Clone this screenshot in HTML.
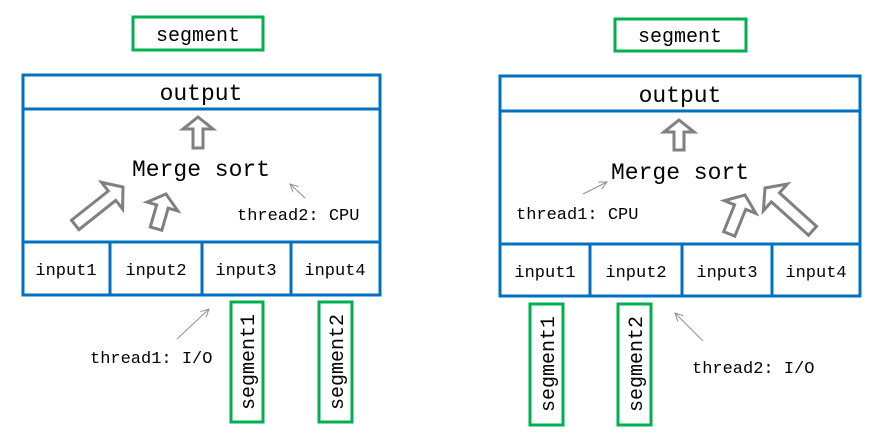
<!DOCTYPE html>
<html><head><meta charset="utf-8"><style>
html,body{margin:0;padding:0;background:#fff;}
svg{display:block;}
text{font-family:"Liberation Mono",monospace;fill:#000;}
</style></head><body>
<svg width="881" height="438" viewBox="0 0 881 438" xmlns="http://www.w3.org/2000/svg">
<defs>
<marker id="ah" markerWidth="10" markerHeight="10" refX="9" refY="5" orient="auto" markerUnits="userSpaceOnUse">
<path d="M1,1 L9,5 L1,9" fill="none" stroke="#909090" stroke-width="1"/>
</marker>
</defs>
<!-- LEFT -->
<rect x="133" y="17" width="130" height="33" fill="none" stroke="#00b050" stroke-width="3"/>
<text x="198" y="41" font-size="20" text-anchor="middle">segment</text>
<g fill="none" stroke="#0070c0" stroke-width="3">
<rect x="23" y="75" width="357" height="220"/>
<line x1="23" y1="109" x2="380" y2="109"/>
<line x1="23" y1="242" x2="380" y2="242"/>
<line x1="110" y1="242" x2="110" y2="295"/>
<line x1="202" y1="242" x2="202" y2="295"/>
<line x1="291" y1="242" x2="291" y2="295"/>
</g>
<text x="201" y="100" font-size="23" text-anchor="middle">output</text>
<text x="201" y="176" font-size="23" text-anchor="middle">Merge sort</text>
<text x="237" y="220" font-size="17">thread2: CPU</text>
<g font-size="17" text-anchor="middle">
<text x="66" y="275">input1</text><text x="156" y="275">input2</text><text x="246" y="275">input3</text><text x="335" y="275">input4</text>
</g>
<g fill="#fff" stroke="#808080" stroke-width="3">
<polygon transform="translate(198,117)" points="0,0 15,12 5,12 5,31 -5,31 -5,12 -15,12"/>
<polygon transform="translate(123,187) rotate(51.6)" points="0,0 17,14 6,14 6,61 -6,61 -6,14 -17,14"/>
<polygon transform="translate(166,194) rotate(16)" points="0,0 16,13 6,13 6,36 -6,36 -6,13 -16,13"/>
</g>
<line x1="305" y1="198" x2="290" y2="184" stroke="#909090" stroke-width="1" marker-end="url(#ah)"/>
<line x1="177" y1="339" x2="209" y2="309" stroke="#909090" stroke-width="1" marker-end="url(#ah)"/>
<text x="90" y="363" font-size="17">thread1: I/O</text>
<rect x="231" y="302" width="32" height="120" fill="none" stroke="#00b050" stroke-width="3"/>
<text transform="translate(254,362) rotate(-90)" font-size="20" text-anchor="middle">segment1</text>
<rect x="319" y="302" width="33" height="120" fill="none" stroke="#00b050" stroke-width="3"/>
<text transform="translate(343,362) rotate(-90)" font-size="20" text-anchor="middle">segment2</text>

<!-- RIGHT -->
<rect x="615" y="19" width="131" height="32" fill="none" stroke="#00b050" stroke-width="3"/>
<text x="680" y="42" font-size="20" text-anchor="middle">segment</text>
<g fill="none" stroke="#0070c0" stroke-width="3">
<rect x="500" y="76" width="360" height="220"/>
<line x1="500" y1="111" x2="860" y2="111"/>
<line x1="500" y1="244" x2="860" y2="244"/>
<line x1="590" y1="244" x2="590" y2="296"/>
<line x1="682" y1="244" x2="682" y2="296"/>
<line x1="772" y1="244" x2="772" y2="296"/>
</g>
<text x="680" y="102" font-size="23" text-anchor="middle">output</text>
<text x="680" y="179" font-size="23" text-anchor="middle">Merge sort</text>
<text x="516" y="219" font-size="17">thread1: CPU</text>
<g font-size="17" text-anchor="middle">
<text x="545" y="277">input1</text><text x="636" y="277">input2</text><text x="727" y="277">input3</text><text x="816" y="277">input4</text>
</g>
<g fill="#fff" stroke="#808080" stroke-width="3">
<polygon transform="translate(679,120)" points="0,0 15,12 5,12 5,30 -5,30 -5,12 -15,12"/>
<polygon transform="translate(745,195) rotate(22)" points="0,0 17,13 6,13 6,42 -6,42 -6,13 -17,13"/>
<polygon transform="translate(765,188) rotate(-48)" points="0,0 18,14 6,14 6,64 -6,64 -6,14 -18,14"/>
</g>
<line x1="583" y1="194" x2="607" y2="182" stroke="#909090" stroke-width="1" marker-end="url(#ah)"/>
<line x1="703" y1="341" x2="675" y2="313" stroke="#909090" stroke-width="1" marker-end="url(#ah)"/>
<text x="692" y="373" font-size="17">thread2: I/O</text>
<rect x="530" y="304" width="33" height="121" fill="none" stroke="#00b050" stroke-width="3"/>
<text transform="translate(554,364) rotate(-90)" font-size="20" text-anchor="middle">segment1</text>
<rect x="618" y="304" width="33" height="121" fill="none" stroke="#00b050" stroke-width="3"/>
<text transform="translate(642,364) rotate(-90)" font-size="20" text-anchor="middle">segment2</text>
</svg>
</body></html>
